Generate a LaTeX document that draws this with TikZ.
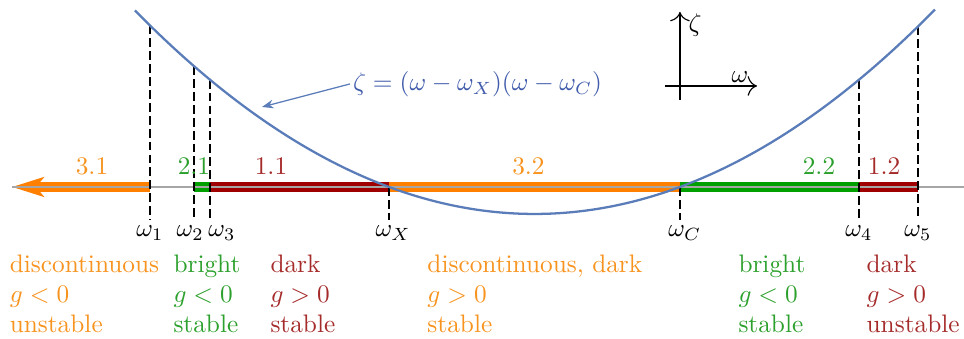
\documentclass[tikz,border=0pt]{standalone}
\usetikzlibrary{arrows.meta, positioning, calc}
\definecolor{bandOrange}{HTML}{FF8000}
\definecolor{bandGreen}{HTML}{00A000}
\definecolor{bandRed}{HTML}{A00000}
\definecolor{txtOrange}{HTML}{F7931E}
\definecolor{txtGreen}{HTML}{2CA02C}
\definecolor{txtRed}{HTML}{A52A2A}
\definecolor{curveBlue}{HTML}{5A7DB9}
\definecolor{formBlue}{HTML}{3F5BAA}
\tikzset{
  >={To[length=1.3mm]},
  band/.style={line width=4pt},
  axisline/.style={draw=gray!70, line width=0.5pt},
  dline/.style={dash pattern=on 3.5pt off 1.6pt, line width=0.65pt},
  wlabel/.style={anchor=north, inner sep=2pt},
  seglabel/.style={anchor=base, inner sep=0pt},
  desc/.style={anchor=north west, align=left, inner sep=0pt},
}

\begin{document}
\begin{tikzpicture}[declare function={zeta(\x)=0.0918*(\x-5.403)*(\x-9.444);}]
  \useasboundingbox (0,-2.111) rectangle (13.389,2.597);

  % ---- Points on the axis and on the curve --------------------------------
  \coordinate (tip)   at (0.167,0);
  \coordinate (axend) at (13.389,0);
  \coordinate (c1) at (2.083,{zeta(2.083)});
  \coordinate (c2) at (2.694,{zeta(2.694)});
  \coordinate (c3) at (2.917,{zeta(2.917)});
  \coordinate (cX) at (5.403,0);
  \coordinate (cC) at (9.444,0);
  \coordinate (c4) at (11.931,{zeta(11.931)});
  \coordinate (c5) at (12.750,{zeta(12.750)});

  % ---- Coloured intervals ---------------------------------------------------
  \draw[band, bandOrange, -{Stealth[length=4.4mm, width=2.7mm, inset=1.1mm]}]
        (c1 |- tip) -- (tip);
  \draw[band, bandGreen]  (c2 |- tip) -- (c3 |- tip);
  \draw[band, bandRed]    (c3 |- tip) -- (cX);
  \draw[band, bandOrange] (cX) -- (cC);
  \draw[band, bandGreen]  (cC) -- (c4 |- tip);
  \draw[band, bandRed]    (c4 |- tip) -- (c5 |- tip);
  \draw[axisline] (tip) -- (axend);

  % ---- Frequency markers ----------------------------------------------------
  \node[wlabel] (w1) at (2.083,-0.458) {$\omega_1$};
  \node[wlabel] (w2) at (2.640,-0.458) {$\omega_2$};
  \node[wlabel] (w3) at (3.083,-0.458) {$\omega_3$};
  \node[wlabel] (wX) at (5.460,-0.458) {$\omega_X$};
  \node[wlabel] (wC) at (9.510,-0.458) {$\omega_C$};
  \node[wlabel] (w4) at (11.931,-0.458) {$\omega_4$};
  \node[wlabel] (w5) at (12.750,-0.458) {$\omega_5$};
  \draw[dline] (c1) -- (c1 |- w1.north);
  \draw[dline] (c2) -- (c2 |- w2.north);
  \draw[dline] (c3) -- (c3 |- w3.north);
  \draw[dline] (cX) -- (cX |- wX.north);
  \draw[dline] (cC) -- (cC |- wC.north);
  \draw[dline] (c4) -- (c4 |- w4.north);
  \draw[dline] (c5) -- (c5 |- w5.north);

  \draw[curveBlue, line width=0.9pt]
        plot[domain=1.875:12.986, samples=80, smooth] (\x,{zeta(\x)});

  % ---- Interval numbers -----------------------------------------------------
  \node[seglabel, txtOrange] (s31) at (1.278,0.167)  {3.1};
  \node[seglabel, txtGreen]  (s21) at (2.694,0.167)  {2.1};
  \node[seglabel, txtRed]    (s11) at (3.764,0.167)  {1.1};
  \node[seglabel, txtOrange] (s32) at (7.340,0.167)  {3.2};
  \node[seglabel, txtGreen]  (s22) at (11.375,0.167) {2.2};
  \node[seglabel, txtRed]    (s12) at (12.278,0.167) {1.2};

  % ---- Curve formula and small axes -----------------------------------------
  \node[formBlue, anchor=west, inner sep=1pt] (eq) at (4.861,1.431)
        {$\zeta=(\omega-\omega_X)(\omega-\omega_C)$};
  \coordinate (eqtip) at (3.639,1.111);
  \draw[-{Stealth[length=1.6mm, width=1.2mm]}, curveBlue, line width=0.5pt]
        (eq.west) -- (eqtip);

  \coordinate (ybot)   at (9.444,1.208);
  \coordinate (ytop)   at (9.444,2.431);
  \coordinate (xleft)  at (9.236,1.403);
  \coordinate (xright) at (10.514,1.403);
  \draw[->, line width=0.45pt] (ybot) -- (ytop);
  \draw[->, line width=0.45pt] (xleft) -- (xright);
  \node (zlab) at (9.653,2.250) {$\zeta$};
  \node (olab) at (10.278,1.528) {$\omega$};

  % ---- Descriptions -----------------------------------------------------------
  \node[desc, txtOrange] (d31) at (0.129,-0.931) {discontinuous\\$g<0$\\unstable};
  \node[desc, txtGreen]  (d21) at (2.403,-0.931) {bright\\$g<0$\\stable};
  \node[desc, txtRed]    (d11) at (3.750,-0.931) {dark\\$g>0$\\stable};
  \node[desc, txtOrange] (d32) at (5.930,-0.931) {discontinuous, dark\\$g>0$\\stable};
  \node[desc, txtGreen]  (d22) at (10.250,-0.931) {bright\\$g<0$\\stable};
  \node[desc, txtRed]    (d12) at (12.030,-0.931) {dark\\$g>0$\\unstable};

\end{tikzpicture}
\end{document}
